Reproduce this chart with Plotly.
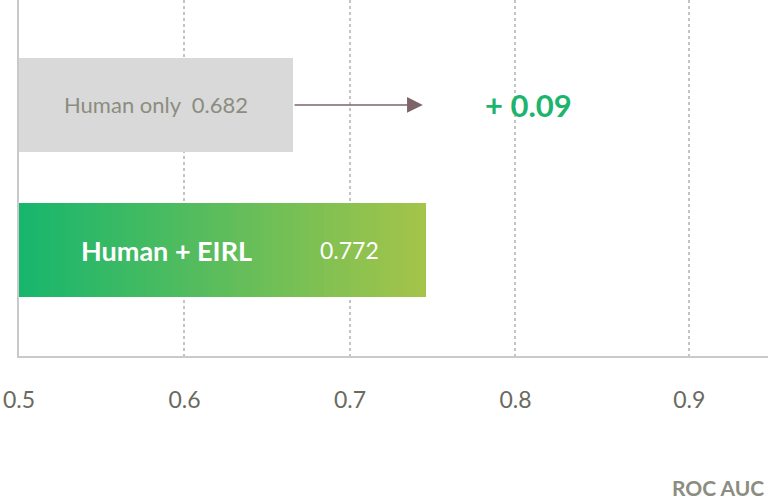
import plotly.graph_objects as go

# ---- data ----
groups = ["Human only", "Human + EIRL"]
auc_scores = [0.682, 0.772]          # printed values
bar_ends = [0.6656, 0.7459]          # drawn bar extents on the axis
axis_start = 0.5
tick_labels = ["0.5", "0.6", "0.7", "0.8", "0.9"]
tick_positions = [0.5, 0.6, 0.7, 0.8, 0.905]
x_label = "ROC AUC"

GREY_TXT = "#8b8d80"
GREEN_L = (23, 182, 109)
GREEN_R = (164, 196, 74)
FONT = "Lato"

fig = go.Figure()

# Human only: plain grey bar
fig.add_trace(go.Bar(
    y=[0], x=[bar_ends[0] - axis_start], base=[axis_start], orientation="h",
    width=0.655, marker=dict(color="#d9d9d9", line=dict(width=0)),
    hoverinfo="skip", showlegend=False))

# Human + EIRL: gradient bar made of overlaid segments
N = 80
seg = (bar_ends[1] - axis_start) / N
for i in range(N):
    t = i / (N - 1)
    c = tuple(round(GREEN_L[k] + (GREEN_R[k] - GREEN_L[k]) * t) for k in range(3))
    b0 = axis_start + i * seg
    fig.add_trace(go.Bar(
        y=[1], x=[bar_ends[1] - b0], base=[b0], orientation="h",
        width=0.655, marker=dict(color="rgb(%d,%d,%d)" % c, line=dict(width=0)),
        hoverinfo="skip", showlegend=False))

# labels inside bars
fig.add_annotation(x=0.583, y=0, xref="x", yref="y", showarrow=False,
                   text=f"{groups[0]}&nbsp;&nbsp;{auc_scores[0]:.3f}",
                   font=dict(family=FONT, size=22, color=GREY_TXT))
fig.add_annotation(x=0.5894, y=1, xref="x", yref="y", showarrow=False,
                   text=f"<b>{groups[1]}</b>",
                   font=dict(family=FONT, size=27, color="white"))
fig.add_annotation(x=0.7, y=1, xref="x", yref="y", showarrow=False,
                   text=f"{auc_scores[1]:.3f}",
                   font=dict(family=FONT, size=23, color="white"))

# arrow and delta
fig.add_annotation(x=0.744, y=0, ax=bar_ends[0], ay=0, xref="x", yref="y",
                   axref="x", ayref="y", showarrow=True, text="",
                   arrowhead=2, arrowsize=2.1, arrowwidth=1.5, arrowcolor="#7d6468")
delta = auc_scores[1] - auc_scores[0]
fig.add_annotation(x=0.8076, y=0, xref="x", yref="y", showarrow=False,
                   text=f"<b>+ {delta:.2f}</b>",
                   font=dict(family=FONT, size=31, color="#1db56d"))

# axis title
fig.add_annotation(x=0.997, y=-0.368, xref="paper", yref="paper", showarrow=False,
                   xanchor="right", yanchor="middle", text=f"<b>{x_label}</b>",
                   font=dict(family=FONT, size=21, color=GREY_TXT))

fig.update_layout(
    width=768, height=500, barmode="overlay", bargap=0,
    margin=dict(l=19, r=0, t=0, b=144, autoexpand=False),
    paper_bgcolor="white", plot_bgcolor="white",
    font=dict(family=FONT),
    xaxis=dict(range=[0.5, 0.9526], tickvals=tick_positions, ticktext=tick_labels,
               showgrid=True, gridcolor="#c4c4c4", griddash="dot", gridwidth=1.5,
               showline=True, linecolor="#c9c9c9", linewidth=1.5,
               zeroline=False, ticks="", ticklabelstandoff=23, automargin=False,
               tickfont=dict(family=FONT, size=23, color="#6a6a60")),
    yaxis=dict(range=[1.731, -0.724], showticklabels=False, showgrid=False,
               showline=True, linecolor="#c9c9c9", linewidth=1.5,
               zeroline=False, ticks="", automargin=False),
)

fig.write_html("out.html", config={"displayModeBar": False},
               post_script="document.body.style.margin='0';document.body.style.overflow='hidden';")
